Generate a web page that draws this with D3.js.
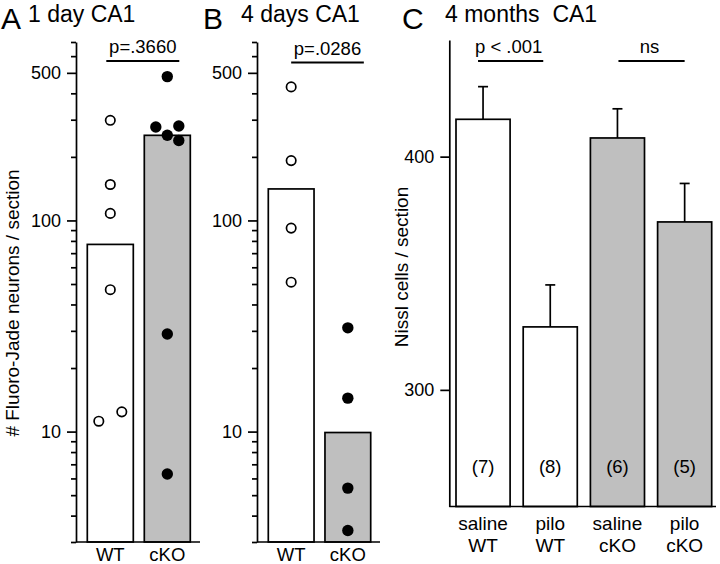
<!DOCTYPE html>
<html><head><meta charset="utf-8">
<script src="https://cdn.jsdelivr.net/npm/d3@7"></script>
<style>
body{margin:0;background:#fff}
text{font-family:"Liberation Sans",Arial,Helvetica,sans-serif;fill:#000}
</style>
</head><body><svg id="c" width="720" height="564"></svg>
<script>
// ---------- data ----------
const groupsAB = ["WT", "cKO"];

const dayA_means = [77, 253];
const dayA_WT = [298, 148, 108, 47, 11.2, 12.4];
const dayA_WT_slot = [0, 0, 0, 0, -1, 1];
const dayA_cKO = [480, 277, 280, 253, 239, 29, 6.3];
const dayA_cKO_slot = [0, -1, 1, 0, 1, 0, 0];
const dayA_p = "p=.3660";

const dayB_means = [141, 9.9];
const dayB_WT = [429, 192, 92, 51];
const dayB_WT_slot = [0, 0, 0, 0];
const dayB_cKO = [31, 14.4, 5.4, 3.4];
const dayB_cKO_slot = [0, 0, 0, 0];
const dayB_p = "p=.0286";

const logMajorTicks = [10, 100, 500];
const logMinorTicks = [3,4,5,6,7,8,9,20,30,40,50,60,70,80,90,200,300,400,600,700];

const monthC_groups = ["saline WT", "pilo WT", "saline cKO", "pilo cKO"];
const monthC_line1 = ["saline", "pilo", "saline", "pilo"];
const monthC_line2 = ["WT", "WT", "cKO", "cKO"];
const monthC_means = [416, 327, 408, 372];
const monthC_sem = [14, 18, 12.5, 16.5];
const monthC_n = ["(7)", "(8)", "(6)", "(5)"];
const monthC_ticks = [300, 400];
const monthC_p = ["p < .001", "ns"];

const GRAY = "#bfbfbf";
const fillFor = g => (g === "WT" ? "#fff" : GRAY);

const svg = d3.select("#c");
const SW = 1.7;

// ---------- panel A & B (log scale) ----------
const yLog = d3.scaleLog().domain([3, 700]).range([542, 42]);

function logPanel(o) {
  const g = svg.append("g");
  const x = d3.scaleBand().domain(groupsAB).range(o.bandRange).paddingInner(0.193).paddingOuter(0);
  const bw = x.bandwidth();
  const cx = c => x(c) + bw / 2;

  g.selectAll("rect.bar").data(groupsAB).join("rect")
    .attr("x", d => x(d)).attr("width", bw)
    .attr("y", (d, i) => yLog(o.means[i]))
    .attr("height", (d, i) => yLog.range()[0] - yLog(o.means[i]))
    .attr("fill", d => fillFor(d)).attr("stroke", "#000").attr("stroke-width", SW);

  const minor = g.append("g").attr("transform", `translate(${o.axisX},0)`)
    .call(d3.axisLeft(yLog).tickValues(logMinorTicks).tickSize(5).tickSizeOuter(0).tickFormat(""));
  minor.select(".domain").remove();
  const major = g.append("g").attr("transform", `translate(${o.axisX},0)`)
    .call(d3.axisLeft(yLog).tickValues(logMajorTicks).tickSize(9).tickSizeOuter(0).tickPadding(6).tickFormat(d3.format("d")));
  [minor, major].forEach(a => {
    a.selectAll("line").attr("stroke", "#000").attr("stroke-width", SW);
    a.selectAll("path").attr("stroke", "#000").attr("stroke-width", SW);
  });
  major.selectAll("text").attr("font-size", 18).attr("font-family", null).attr("fill", "#000");

  g.append("line").attr("x1", o.axisX).attr("x2", o.axisEnd)
    .attr("y1", yLog.range()[0]).attr("y2", yLog.range()[0])
    .attr("stroke", "#000").attr("stroke-width", SW);

  const SLOT = 11.5;
  g.selectAll("circle.wt").data(o.wt).join("circle")
    .attr("cx", (d, i) => cx("WT") + o.wtSlot[i] * SLOT).attr("cy", d => yLog(d))
    .attr("r", 4.7).attr("fill", "#fff").attr("stroke", "#000").attr("stroke-width", 1.7);
  g.selectAll("circle.ko").data(o.cko).join("circle")
    .attr("cx", (d, i) => cx("cKO") + o.ckoSlot[i] * SLOT).attr("cy", d => yLog(d))
    .attr("r", 5.7).attr("fill", "#000");

  g.selectAll("text.xl").data(groupsAB).join("text")
    .attr("x", d => cx(d)).attr("y", 561).attr("text-anchor", "middle")
    .attr("font-size", 18.5).text(d => d);

  const lx1 = cx("WT") + o.pOff[0], lx2 = cx("cKO") + o.pOff[1];
  g.append("line").attr("x1", lx1).attr("x2", lx2).attr("y1", o.pY).attr("y2", o.pY)
    .attr("stroke", "#000").attr("stroke-width", 1.9);
  g.append("text").attr("x", (lx1 + lx2) / 2).attr("y", o.pY - 8).attr("text-anchor", "middle")
    .attr("font-size", 18.5).text(o.pText);

  svg.append("text").attr("x", o.letterX).attr("y", 29).attr("font-size", 30).text(o.letter);
  svg.append("text").attr("x", o.titleX).attr("y", 22).attr("font-size", 23)
    .style("white-space", "pre").text(o.title);
}

logPanel({
  axisX: 76, axisEnd: 200, bandRange: [87.3, 190.3],
  means: dayA_means, wt: dayA_WT, wtSlot: dayA_WT_slot, cko: dayA_cKO, ckoSlot: dayA_cKO_slot,
  pText: dayA_p, pOff: [-4, 12], pY: 61,
  letter: "A", letterX: 1, title: "1 day CA1", titleX: 28
});
logPanel({
  axisX: 257, axisEnd: 380, bandRange: [268.3, 370.7],
  means: dayB_means, wt: dayB_WT, wtSlot: dayB_WT_slot, cko: dayB_cKO, ckoSlot: dayB_cKO_slot,
  pText: dayB_p, pOff: [0, 16], pY: 62.5,
  letter: "B", letterX: 203, title: "4 days CA1", titleX: 241
});

svg.append("text").attr("transform", "translate(19,303) rotate(-90)")
  .attr("text-anchor", "middle").attr("font-size", 19).text("# Fluoro-Jade neurons / section");

// ---------- panel C ----------
{
  const g = svg.append("g");
  const axisX = 449.3;
  const y = d3.scaleLinear().domain([250, 450]).range([506.5, 40]);
  const x = d3.scaleBand().domain(monthC_groups).range([456, 711.7]).paddingInner(0.195).paddingOuter(0);
  const bw = x.bandwidth();
  const cx = d => x(d) + bw / 2;

  g.selectAll("rect").data(monthC_groups).join("rect")
    .attr("x", d => x(d)).attr("width", bw)
    .attr("y", (d, i) => y(monthC_means[i]))
    .attr("height", (d, i) => y.range()[0] - y(monthC_means[i]))
    .attr("fill", (d, i) => fillFor(monthC_line2[i] === "WT" ? "WT" : "cKO"))
    .attr("stroke", "#000").attr("stroke-width", SW);

  monthC_groups.forEach((d, i) => {
    const top = y(monthC_means[i] + monthC_sem[i]);
    g.append("line").attr("x1", cx(d)).attr("x2", cx(d)).attr("y1", y(monthC_means[i])).attr("y2", top)
      .attr("stroke", "#000").attr("stroke-width", SW);
    g.append("line").attr("x1", cx(d) - 5).attr("x2", cx(d) + 5).attr("y1", top).attr("y2", top)
      .attr("stroke", "#000").attr("stroke-width", SW);
  });

  g.selectAll("text.n").data(monthC_groups).join("text")
    .attr("x", d => cx(d)).attr("y", 473).attr("text-anchor", "middle")
    .attr("font-size", 18.5).text((d, i) => monthC_n[i]);

  const ax = g.append("g").attr("transform", `translate(${axisX},0)`)
    .call(d3.axisLeft(y).tickValues(monthC_ticks).tickSize(9).tickSizeOuter(0).tickPadding(6));
  ax.selectAll("line,path").attr("stroke", "#000").attr("stroke-width", SW);
  ax.selectAll("text").attr("font-size", 18).attr("font-family", null).attr("fill", "#000");

  g.append("line").attr("x1", axisX).attr("x2", 716).attr("y1", y.range()[0]).attr("y2", y.range()[0])
    .attr("stroke", "#000").attr("stroke-width", SW);

  g.selectAll("text.l1").data(monthC_groups).join("text")
    .attr("x", d => cx(d)).attr("y", 530).attr("text-anchor", "middle")
    .attr("font-size", 19).text((d, i) => monthC_line1[i]);
  g.selectAll("text.l2").data(monthC_groups).join("text")
    .attr("x", d => cx(d)).attr("y", 551.5).attr("text-anchor", "middle")
    .attr("font-size", 19).text((d, i) => monthC_line2[i]);

  const pairs = [[0, 1, -5, -7], [2, 3, 1, 0]];
  pairs.forEach((p, k) => {
    const x1 = cx(monthC_groups[p[0]]) + p[2], x2 = cx(monthC_groups[p[1]]) + p[3];
    g.append("line").attr("x1", x1).attr("x2", x2).attr("y1", 61).attr("y2", 61)
      .attr("stroke", "#000").attr("stroke-width", 1.9);
    g.append("text").attr("x", (x1 + x2) / 2 - 2).attr("y", 53).attr("text-anchor", "middle")
      .attr("font-size", 18.5).text(monthC_p[k]);
  });

  svg.append("text").attr("transform", "translate(408,267) rotate(-90)")
    .attr("text-anchor", "middle").attr("font-size", 19).text("Nissl cells / section");

  svg.append("text").attr("x", 402).attr("y", 29).attr("font-size", 30).text("C");
  svg.append("text").attr("x", 445).attr("y", 22).attr("font-size", 23)
    .style("white-space", "pre").text("4 months  CA1");
}
</script></body></html>
